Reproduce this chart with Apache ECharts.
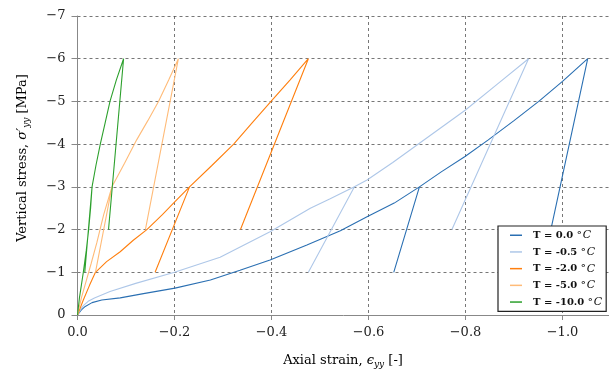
<!DOCTYPE html>
<html>
<head>
<meta charset="utf-8">
<script src="https://cdn.jsdelivr.net/npm/echarts@6/dist/echarts.min.js"></script>
<style>
html,body{margin:0;padding:0;background:#fff;}
#chart{width:609px;height:371px;}
</style>
</head>
<body>
<div id="chart"></div>
<script>
// ---- data (strain, stress) ----
const seriesNames = ['T = 0.0', 'T = -0.5', 'T = -2.0', 'T = -5.0', 'T = -10.0'];
const seriesColors = ['#2a6fb2', '#aec7e8', '#ff7f0e', '#ffbb78', '#2ca02c'];

const t00 = [[0,0],[-0.008,-0.12],[-0.016,-0.2],[-0.03,-0.29],[-0.05,-0.35],[-0.088,-0.40],[-0.136,-0.5],[-0.201,-0.63],[-0.274,-0.82],[-0.335,-1.05],[-0.397,-1.29],[-0.473,-1.64],[-0.542,-1.97],[-0.597,-2.30],[-0.653,-2.62],[-0.705,-3.0],[-0.652,-1.0],[-0.705,-3.0],[-0.75,-3.35],[-0.799,-3.71],[-0.847,-4.10],[-0.9,-4.55],[-0.951,-5.0],[-1.0,-5.47],[-1.052,-6.0],[-0.976,-2.0]];
const t05 = [[0,0],[-0.006,-0.12],[-0.012,-0.22],[-0.022,-0.32],[-0.035,-0.4],[-0.067,-0.55],[-0.12,-0.74],[-0.2,-1.0],[-0.294,-1.35],[-0.397,-1.95],[-0.48,-2.5],[-0.521,-2.72],[-0.571,-3.0],[-0.476,-1.0],[-0.571,-3.0],[-0.597,-3.16],[-0.65,-3.57],[-0.7,-3.98],[-0.75,-4.39],[-0.8,-4.8],[-0.865,-5.4],[-0.93,-6.0],[-0.772,-2.0]];
const t20 = [[0,0],[-0.012,-0.35],[-0.025,-0.7],[-0.037,-1.0],[-0.06,-1.25],[-0.088,-1.48],[-0.115,-1.75],[-0.143,-2.0],[-0.175,-2.35],[-0.205,-2.7],[-0.231,-3.0],[-0.16,-1.0],[-0.231,-3.0],[-0.277,-3.5],[-0.322,-4.0],[-0.36,-4.5],[-0.399,-5.0],[-0.438,-5.5],[-0.476,-6.0],[-0.336,-2.0]];
const t50 = [[0,0],[-0.008,-0.4],[-0.018,-0.8],[-0.028,-1.2],[-0.04,-1.7],[-0.054,-2.35],[-0.071,-3.0],[-0.037,-1.0],[-0.071,-3.0],[-0.097,-3.55],[-0.122,-4.1],[-0.145,-4.55],[-0.167,-5.0],[-0.188,-5.5],[-0.208,-6.0],[-0.14,-2.0]];
const t100 = [[0,0],[-0.004,-0.4],[-0.008,-0.7],[-0.012,-1.0],[-0.018,-1.5],[-0.023,-2.0],[-0.027,-2.5],[-0.03,-3.0],[-0.015,-1.0],[-0.03,-3.0],[-0.038,-3.5],[-0.047,-4.0],[-0.057,-4.5],[-0.067,-5.0],[-0.08,-5.5],[-0.095,-6.0],[-0.064,-2.0]];
const seriesData = [t00, t05, t20, t50, t100];

const xTickValues = [0, -0.2, -0.4, -0.6, -0.8, -1.0, -1.2];
const xTickLabels = ['0.0', '\u22120.2', '\u22120.4', '\u22120.6', '\u22120.8', '\u22121.0', '\u22121.2'];
const yTickValues = [0, -1, -2, -3, -4, -5, -6, -7];
const yTickLabels = ['0', '\u22121', '\u22122', '\u22123', '\u22124', '\u22125', '\u22126', '\u22127'];

const FONT = '"DejaVu Serif", "Liberation Serif", serif';

function lookup(values, labels, v) {
  for (let i = 0; i < values.length; i++) if (Math.abs(values[i] - v) < 1e-6) return labels[i];
  return '';
}

const chart = echarts.init(document.getElementById('chart'), null, {renderer: 'canvas'});

const option = {
  animation: false,
  backgroundColor: '#fff',
  grid: {left: 77.5, top: 16, width: 582, height: 299, containLabel: false, outerBoundsMode: 'none'},
  xAxis: {
    type: 'value', min: -1.2, max: 0, interval: 0.2, inverse: true,
    axisLine: {show: true, lineStyle: {color: '#888', width: 1}},
    axisTick: {show: true, length: 5, inside: false, lineStyle: {color: '#888'}},
    axisLabel: {margin: 11, color: '#222', fontFamily: FONT, fontSize: 13,
      formatter: v => lookup(xTickValues, xTickLabels, v)},
    splitLine: {show: true, showMaxLine: false, lineStyle: {color: '#555', width: 0.8, type: [3, 3]}}
  },
  yAxis: {
    type: 'value', min: -7, max: 0, interval: 1, inverse: true,
    axisLine: {show: true, lineStyle: {color: '#888', width: 1}},
    axisTick: {show: true, length: 6, inside: false, lineStyle: {color: '#888'}},
    axisLabel: {margin: 12, color: '#222', fontFamily: FONT, fontSize: 13,
      formatter: v => lookup(yTickValues, yTickLabels, v)},
    splitLine: {show: true, showMinLine: true, showMaxLine: false, lineStyle: {color: '#555', width: 0.8, type: [3, 3]}}
  },
  legend: {
    orient: 'vertical', left: 498, top: 226,
    data: seriesNames.map(n => ({name: n, icon: 'rect'})),
    itemWidth: 12, itemHeight: 1.5, itemGap: 4.2,
    padding: [3, 4, 3, 12],
    backgroundColor: '#fff', borderColor: '#222', borderWidth: 1.2, borderRadius: 0,
    formatter: name => '{b|' + name + ' \u00b0}{i|C}',
    textStyle: {
      fontFamily: FONT, fontSize: 10, color: '#111', lineHeight: 12.5,
      rich: {
        b: {fontFamily: FONT, fontSize: 10, fontWeight: 'bold', color: '#111', padding: [0, 0, 0, 6], lineHeight: 12.5},
        i: {fontFamily: FONT, fontSize: 11, fontStyle: 'italic', color: '#111', padding: [0, 0, 0, 1], lineHeight: 12.5}
      }
    }
  },
  graphic: [
    {
      type: 'text', x: 343, y: 361,
      style: {
        text: '{n|Axial strain, }{e|\u03f5}{s|yy}{n| [-]}',
        align: 'center', verticalAlign: 'middle',
        rich: {
          n: {fontFamily: FONT, fontSize: 13, color: '#1a1a1a'},
          e: {fontFamily: FONT, fontSize: 13, fontStyle: 'italic', color: '#1a1a1a'},
          s: {fontFamily: FONT, fontSize: 9, fontStyle: 'italic', color: '#1a1a1a', padding: [8, 0, 0, 0]}
        }
      }
    },
    {
      type: 'text', x: 23, y: 158, rotation: Math.PI / 2,
      style: {
        text: '{n|Vertical stress, }{e|\u03c3\u2032}{s|yy}{n| [MPa]}',
        align: 'center', verticalAlign: 'middle',
        rich: {
          n: {fontFamily: FONT, fontSize: 13, color: '#1a1a1a'},
          e: {fontFamily: FONT, fontSize: 13, fontStyle: 'italic', color: '#1a1a1a'},
          s: {fontFamily: FONT, fontSize: 9, fontStyle: 'italic', color: '#1a1a1a', padding: [8, 0, 0, 0]}
        }
      }
    }
  ],
  series: seriesNames.map((name, i) => ({
    name: name,
    type: 'line',
    data: seriesData[i],
    symbol: 'none',
    showSymbol: false,
    smooth: false,
    clip: true,
    color: seriesColors[i],
    lineStyle: {color: seriesColors[i], width: 1.1},
    emphasis: {disabled: true}
  }))
};

chart.setOption(option);
</script>
</body>
</html>
